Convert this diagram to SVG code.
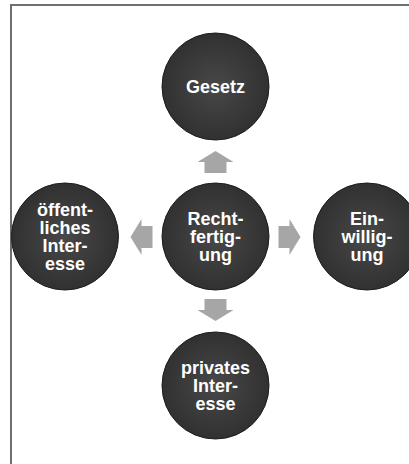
<svg xmlns="http://www.w3.org/2000/svg" width="409" height="464" viewBox="0 0 409 464">
  <defs>
    <radialGradient id="ballFill" cx="50%" cy="50%" r="50%">
      <stop offset="0%" stop-color="#484848"/>
      <stop offset="100%" stop-color="#313131"/>
    </radialGradient>
  </defs>
  <style>
    .ball { fill: url(#ballFill); stroke: #1c1c1c; stroke-width: 1; }
    .label { font-family: "Liberation Sans", Arial, sans-serif; font-size: 18px; font-weight: bold; fill: #ffffff; text-anchor: middle; }
    .arrow { fill: #a6a6a6; }
    .frame { fill: none; stroke: #6f6f6f; stroke-width: 2; }
  </style>

  <rect width="409" height="464" fill="#ffffff"/>
  <!-- page frame: only the top and left edges fall inside the view -->
  <path class="frame" d="M11,464 V5 H409"/>

  <g id="connectors">
    <!-- up -->
    <polygon class="arrow" points="215.5,151 233.5,162 226.5,162 226.5,173 204.5,173 204.5,162 197.5,162"/>
    <!-- down -->
    <polygon class="arrow" points="215.5,321 233.5,310 226.5,310 226.5,299 204.5,299 204.5,310 197.5,310"/>
    <!-- left -->
    <polygon class="arrow" points="130.5,237 141.5,219 141.5,226 152.5,226 152.5,248 141.5,248 141.5,255"/>
    <!-- right -->
    <polygon class="arrow" points="300.5,237 289.5,219 289.5,226 278.5,226 278.5,248 289.5,248 289.5,255"/>
  </g>

  <g id="node-rechtfertigung">
    <circle class="ball" cx="215.5" cy="236.5" r="53.5"/>
    <text class="label" x="215.5" y="225">Recht-</text>
    <text class="label" x="215.5" y="243">fertig-</text>
    <text class="label" x="215.5" y="261">ung</text>
  </g>

  <g id="node-gesetz">
    <circle class="ball" cx="215.5" cy="86.5" r="53.5"/>
    <text class="label" x="215.5" y="93">Gesetz</text>
  </g>

  <g id="node-einwilligung">
    <circle class="ball" cx="367" cy="236.5" r="53.5"/>
    <text class="label" x="367" y="225">Ein-</text>
    <text class="label" x="367" y="243">willig-</text>
    <text class="label" x="367" y="261">ung</text>
  </g>

  <g id="node-privates-interesse">
    <circle class="ball" cx="215.5" cy="385.5" r="53.5"/>
    <text class="label" x="215.5" y="374">privates</text>
    <text class="label" x="215.5" y="392">Inter-</text>
    <text class="label" x="215.5" y="410">esse</text>
  </g>

  <g id="node-oeffentliches-interesse">
    <circle class="ball" cx="65" cy="236.5" r="53.5"/>
    <text class="label" x="65" y="216">öffent-</text>
    <text class="label" x="65" y="234">liches</text>
    <text class="label" x="65" y="252">Inter-</text>
    <text class="label" x="65" y="270">esse</text>
  </g>
</svg>
